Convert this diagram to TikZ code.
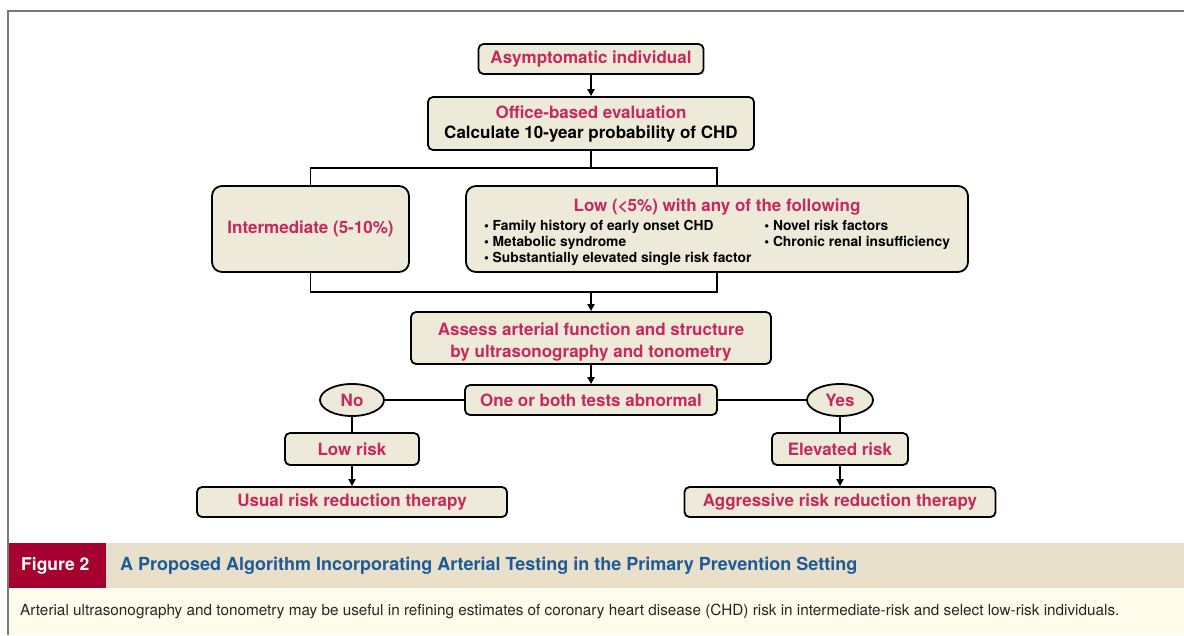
\documentclass[tikz,border=0pt]{standalone}
\usepackage{fontspec}
\setmainfont{TeX Gyre Heros}
\usetikzlibrary{math,shapes.geometric,arrows.meta}

\definecolor{boxfill}{RGB}{238,234,218}
\definecolor{headpink}{RGB}{200,40,90}
\definecolor{capband}{RGB}{232,224,203}
\definecolor{figred}{RGB}{166,0,48}
\definecolor{capblue}{RGB}{30,90,150}
\definecolor{noteband}{RGB}{255,252,235}
\definecolor{framegray}{RGB}{120,120,120}

\newcommand{\bulletfont}{\color{black}\bfseries\fontsize{13.8}{16}\selectfont}

\begin{document}
\begin{tikzpicture}[x=1pt, y=-1pt,
	box/.style={draw=black, line width=1.8pt, fill=boxfill, rounded corners=5pt, inner sep=0pt,
		text=headpink, align=center, font=\bfseries\fontsize{17}{21}\selectfont},
	bigbox/.style={box, rounded corners=10pt},
	oval/.style={box, ellipse},
	link/.style={line width=1.8pt},
	arr/.style={link, -{Triangle[length=7pt,width=7pt]}}]
	% Constants
	\tikzmath{\midx = 591; \leftx = 352; \rightx = 840;}

	\useasboundingbox (0,0) rectangle (1184,635);

	% Frame
	\draw[framegray, line width=2.5pt] (8,635) -- (8,11) -- (1184,11);

	% Boxes
	\node[box, minimum width=225, minimum height=30] (asym) at (\midx,59) {Asymptomatic individual};
	\node[box, minimum width=326, minimum height=53] (office) at (\midx,123.5)
		{\rule{0pt}{14pt}Office-based evaluation\\[-1pt] \textcolor{black}{Calculate 10-year probability of CHD}};
	\node[bigbox, minimum width=197, minimum height=86] (inter) at (310.5,229) {Intermediate (5-10\%)};
	\node[bigbox, minimum width=502, minimum height=86] (low) at (717,229)
		{\rule{0pt}{21pt}Low (<5\%) with any of the following\\[3pt]
		{\bulletfont\begin{tabular}{@{}l@{\hspace{13pt}}l@{}}
			\textbullet\ Family history of early onset CHD & \textbullet\ Novel risk factors\\
			\textbullet\ Metabolic syndrome & \textbullet\ Chronic renal insufficiency\\
			\textbullet\ Substantially elevated single risk factor & \\
		\end{tabular}}};
	\node[box, minimum width=360, minimum height=52] (assess) at (\midx,338)
		{\rule{0pt}{20pt}Assess arterial function and structure\\[1pt] by ultrasonography and tonometry};
	\node[box, minimum width=252, minimum height=30] (abn) at (\midx,400) {One or both tests abnormal};
	\node[oval, minimum width=64, minimum height=32] (no) at (\leftx,400) {No};
	\node[oval, minimum width=66, minimum height=32] (yes) at (\rightx,400) {Yes};
	\node[box, minimum width=134, minimum height=32] (lowrisk) at (\leftx,449) {Low risk};
	\node[box, minimum width=136, minimum height=32] (elev) at (\rightx,449) {Elevated risk};
	\node[box, minimum width=310, minimum height=30] (usual) at (\leftx,502) {Usual risk reduction therapy};
	\node[box, minimum width=311, minimum height=30] (aggr) at (\rightx,502) {Aggressive risk reduction therapy};

	% Connectors
	\coordinate (split) at (\midx,168);
	\coordinate (join) at (\midx,292);
	\draw[arr] (asym) -- (office);
	\draw[link] (office) -- (split);
	\draw[link] (inter.north) |- (split) -| (low.north);
	\draw[link] (inter.south) |- (join) -| (low.south);
	\draw[arr] (join) -- (assess);
	\draw[arr] (assess) -- (abn);
	\draw[link] (no) -- (abn);
	\draw[link] (abn) -- (yes);
	\draw[link] (no) -- (lowrisk);
	\draw[link] (yes) -- (elev);
	\draw[arr] (lowrisk) -- (usual);
	\draw[arr] (elev) -- (aggr);

	% Caption
	\fill[capband] (9,543) rectangle (1184,588);
	\fill[figred] (9,543) rectangle (106,588);
	\fill[noteband] (9,588) rectangle (1184,635);
	\node[anchor=west, text=white, inner sep=0pt, font=\bfseries\fontsize{17.5}{20}\selectfont] (fig) at (21,566) {Figure 2};
	\node[anchor=west, text=capblue, inner sep=0pt, font=\bfseries\fontsize{18}{20}\selectfont] (title) at (120,566)
		{A Proposed Algorithm Incorporating Arterial Testing in the Primary Prevention Setting};
	\node[anchor=west, text=black!85, inner sep=0pt, font=\fontsize{15.3}{17}\selectfont] (note) at (20,611)
		{Arterial ultrasonography and tonometry may be useful in refining estimates of coronary heart disease (CHD) risk in intermediate-risk and select low-risk individuals.};
\end{tikzpicture}
\end{document}
